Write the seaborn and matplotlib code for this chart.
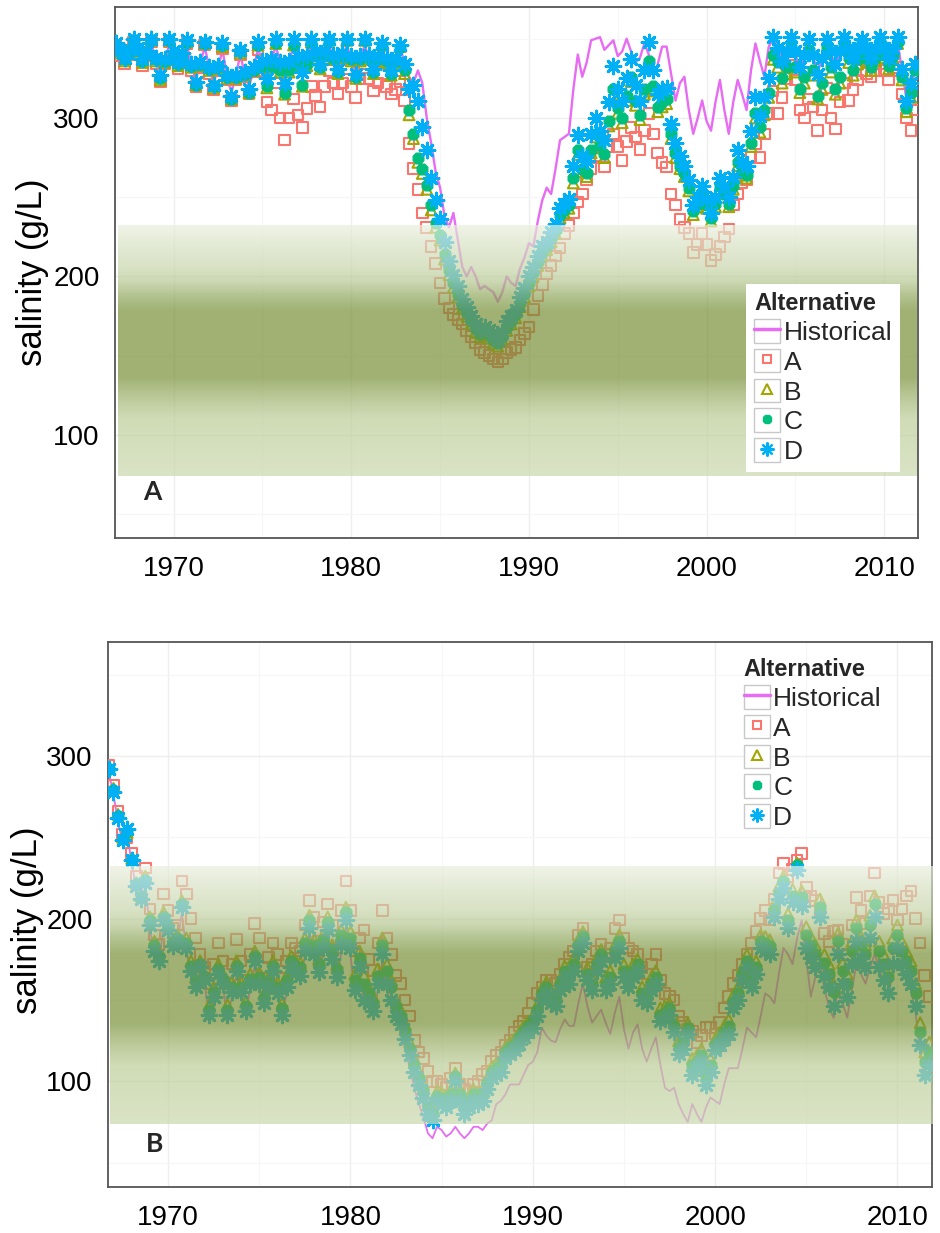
import numpy as np
import pandas as pd
import matplotlib
matplotlib.use("Agg")
import matplotlib.pyplot as plt
from matplotlib.patches import Rectangle
from matplotlib.lines import Line2D
from matplotlib.legend_handler import HandlerTuple
import seaborn as sns

# ---------------- data (quarterly samples, starting 1966.75) ----------------
series_names = ["Historical", "A", "B", "C", "D"]
colors = {"Historical": "#E76BF3", "A": "#F8766D", "B": "#A3A500", "C": "#00BF7D", "D": "#00B0F6"}
start_year = 1966.75
x_ticks = [1970, 1980, 1990, 2000, 2010]
y_ticks = [100, 200, 300]
band_low, band_high = 74, 232

# Panel A (north)
hist_A = [345,
    342, 338, 341, 346,  342, 336, 340, 346,  338, 328, 336, 346,  340, 333, 339, 346,
    334, 324, 334, 345,  332, 322, 331, 343,  327, 316, 326, 340,  328, 320, 330, 344,
    335, 326, 335, 346,  334, 324, 334, 346,  336, 330, 337, 346,  339, 333, 339, 346,
    338, 331, 338, 346,  337, 329, 337, 346,  338, 331, 337, 344,  336, 330, 336, 343,
    336, 326, 322, 330,  322, 300, 284, 266,  256, 238, 231, 240,  223, 206, 200, 206,
    200, 192, 194, 192,  190, 184, 190, 200,  196, 194, 205, 212,  221, 219, 235, 248,
    256, 252, 268, 286,  288, 290, 318, 340,  326, 335, 349, 350,  351, 343, 346, 349,
    339, 342, 350, 342,  335, 338, 347, 340,  326, 334, 345, 345,  328, 311, 322, 326,
    305, 290, 300, 311,  298, 292, 310, 324,  305, 290, 310, 324,  315, 305, 330, 347,
    336, 326, 345, 350,  344, 338, 342, 348,  340, 332, 338, 348,  338, 330, 336, 348,
    340, 334, 340, 348,  342, 336, 342, 348,  342, 336, 342, 348,  342, 336, 342, 348,
    330, 312, 320, 330]
alt_A_A = [345,
    339, 334, 340, 348,  340, 333, 339, 348,  334, 323, 334, 348,  338, 331, 338, 347,
    330, 320, 332, 346,  328, 318, 330, 344,  324, 311, 324, 340,  326, 315, 329, 343,
    330, 310, 305, 322,  300, 286, 300, 312,  302, 294, 306, 320,  314, 307, 320, 330,
    322, 315, 322, 331,  320, 313, 325, 334,  325, 317, 322, 328,  320, 315, 318, 323,
    311, 284, 268, 255,  240, 231, 219, 208,  196, 186, 180, 176,  173, 170, 166, 162,
    158, 154, 152, 150,  148, 146, 148, 152,  154, 155, 160, 164,  168, 179, 188, 195,
    202, 207, 213, 218,  227, 232, 240, 247,  252, 261, 268, 276,  275, 269, 282, 290,
    282, 273, 285, 294,  288, 280, 292, 303,  290, 278, 272, 269,  252, 245, 236, 231,
    227, 215, 220, 227,  220, 210, 214, 219,  225, 230, 245, 252,  259, 261, 275, 284,
    275, 290, 303, 317,  303, 313, 325, 340,  324, 305, 300, 312,  307, 292, 305, 319,
    300, 293, 310, 322,  311, 318, 324, 330,  328, 326, 330, 334,  330, 324, 330, 332,
    315, 300, 292, 305]
alt_B_A = [346,
    341, 336, 341, 349,  342, 335, 340, 349,  336, 324, 335, 349,  340, 333, 339, 348,
    332, 321, 333, 347,  330, 319, 331, 345,  325, 312, 325, 341,  327, 316, 330, 346,
    332, 319, 332, 347,  329, 315, 329, 346,  333, 320, 333, 348,  339, 331, 339, 349,
    337, 328, 338, 349,  336, 325, 336, 349,  337, 328, 336, 346,  335, 327, 335, 345,
    328, 302, 287, 272,  265, 255, 242, 231,  223, 211, 201, 193,  187, 180, 175, 170,
    165, 162, 163, 161,  158, 156, 160, 166,  170, 174, 181, 187,  194, 200, 207, 213,
    217, 222, 227, 237,  240, 243, 259, 277,  266, 263, 278, 288,  281, 275, 295, 315,
    303, 297, 311, 323,  308, 299, 315, 333,  317, 304, 307, 309,  287, 275, 268, 263,
    254, 239, 244, 250,  243, 235, 244, 255,  250, 244, 255, 270,  264, 262, 282, 300,
    291, 302, 313, 337,  332, 322, 328, 343,  329, 316, 322, 341,  327, 312, 318, 342,
    329, 315, 322, 344,  335, 327, 334, 346,  336, 330, 336, 347,  338, 331, 337, 347,
    324, 304, 313, 328]
alt_C_A = [346,
    342, 337, 342, 349,  343, 336, 341, 349,  337, 325, 336, 349,  341, 334, 340, 348,
    333, 321, 334, 347,  331, 320, 332, 346,  326, 312, 326, 342,  328, 316, 330, 346,
    333, 320, 333, 347,  330, 316, 330, 346,  334, 321, 334, 348,  340, 332, 340, 349,
    338, 329, 339, 349,  337, 326, 337, 349,  338, 329, 337, 346,  336, 328, 336, 345,
    330, 305, 290, 275,  268, 258, 245, 234,  226, 214, 204, 196,  189, 182, 177, 172,
    167, 164, 165, 163,  160, 158, 162, 168,  172, 176, 183, 189,  196, 202, 209, 215,
    219, 224, 229, 239,  242, 245, 262, 280,  268, 265, 280, 290,  283, 277, 298, 318,
    306, 300, 314, 326,  311, 302, 318, 336,  320, 307, 310, 312,  290, 278, 270, 265,
    256, 241, 246, 252,  245, 237, 246, 257,  252, 246, 257, 272,  266, 264, 284, 303,
    294, 305, 316, 340,  335, 325, 332, 345,  332, 318, 326, 343,  330, 314, 322, 344,
    332, 318, 326, 346,  338, 330, 337, 347,  338, 332, 338, 348,  340, 333, 339, 348,
    326, 306, 316, 330]
alt_D_A = [347,
    343, 338, 343, 350,  344, 337, 342, 350,  338, 327, 337, 350,  342, 335, 341, 349,
    334, 323, 335, 348,  332, 321, 333, 347,  327, 314, 327, 343,  329, 318, 332, 348,
    336, 325, 337, 350,  335, 322, 336, 350,  339, 329, 340, 350,  342, 334, 342, 350,
    340, 331, 341, 350,  339, 328, 339, 350,  340, 331, 339, 347,  338, 330, 338, 346,
    334, 318, 321, 311,  294, 280, 262, 248,  236, 222, 210, 201,  194, 186, 181, 175,
    170, 167, 168, 166,  163, 160, 165, 172,  175, 179, 187, 193,  200, 206, 213, 219,
    222, 228, 233, 243,  246, 249, 270, 289,  276, 273, 290, 300,  292, 286, 310, 333,
    318, 311, 325, 337,  321, 311, 330, 348,  330, 315, 318, 319,  296, 284, 276, 270,
    261, 245, 250, 257,  249, 240, 250, 262,  257, 250, 263, 280,  272, 270, 292, 313,
    301, 313, 325, 351,  344, 336, 342, 351,  342, 332, 340, 350,  340, 328, 338, 350,
    342, 334, 342, 351,  344, 338, 344, 350,  344, 338, 344, 351,  344, 338, 344, 351,
    331, 311, 322, 334]

# Panel B (south)
hist_B = [290,
    276, 260, 246, 252,  234, 218, 210, 220,  194, 178, 172, 196,  190, 180, 184, 204,
    180, 166, 156, 168,  160, 139, 150, 164,  158, 139, 152, 165,  153, 141, 157, 171,
    158, 146, 156, 166,  152, 139, 155, 167,  164, 162, 177, 191,  175, 164, 179, 190,
    172, 161, 180, 195,  178, 152, 166, 148,  145, 140, 156, 174,  156, 146, 136, 130,
    120, 108, 96, 86,    78, 68, 65, 72,      70, 66, 68, 72,      68, 65, 68, 72,
    72, 70, 74, 76,      86, 88, 92, 98,      98, 98, 104, 110,    112, 118, 133, 128,
    125, 124, 132, 138,  134, 134, 148, 160,  146, 136, 140, 144,  136, 129, 142, 152,
    132, 120, 130, 135,  120, 112, 120, 127,  110, 96, 94, 96,     86, 80, 75, 86,
    80, 75, 84, 90,      88, 86, 98, 108,     108, 108, 120, 133,  130, 127, 140, 154,
    152, 148, 166, 182,  178, 172, 188, 199,  176, 152, 164, 174,  156, 146, 139, 158,
    148, 139, 156, 172,  166, 160, 170, 178,  170, 160, 152, 168,  174, 166, 162, 156,
    142, 118, 100, 106]
alt_A_B = [294,
    282, 266, 252, 250,  240, 226, 218, 231,  206, 190, 184, 215,  205, 194, 196, 223,
    215, 200, 188, 178,  170, 160, 172, 185,  174, 160, 172, 187,  174, 162, 178, 197,
    188, 170, 176, 185,  178, 163, 174, 185,  182, 180, 196, 211,  201, 186, 198, 209,
    196, 182, 205, 223,  205, 180, 188, 193,  175, 168, 185, 205,  188, 178, 165, 160,
    150, 140, 125, 118,  114, 106, 100, 100,  98, 96, 102, 108,    98, 95, 94, 98,
    100, 104, 106, 112,  116, 118, 122, 125,  130, 134, 137, 142,  148, 154, 158, 162,
    162, 160, 166, 172,  176, 180, 190, 194,  170, 172, 180, 184,  178, 182, 194, 199,
    188, 182, 180, 178,  170, 166, 172, 178,  162, 154, 152, 150,  140, 136, 132, 131,
    124, 128, 133, 133,  129, 136, 145, 152,  160, 165, 172, 178,  185, 192, 200, 205,
    199, 212, 228, 234,  226, 230, 236, 240,  219, 214, 211, 205,  191, 186, 192, 193,
    184, 178, 196, 213,  205, 197, 214, 228,  210, 203, 206, 211,  199, 206, 214, 217,
    200, 185, 165, 152]
alt_B_B = [293,
    280, 264, 250, 253,  237, 222, 214, 226,  201, 186, 179, 204,  197, 187, 190, 211,
    188, 174, 164, 174,  166, 147, 158, 172,  166, 147, 161, 174,  161, 149, 166, 180,
    167, 154, 164, 174,  161, 148, 165, 177,  174, 173, 188, 202,  187, 175, 190, 201,
    184, 172, 193, 207,  192, 166, 180, 165,  158, 152, 169, 188,  172, 162, 150, 144,
    135, 124, 114, 106,  98, 88, 84, 94,      93, 91, 95, 105,     95, 88, 91, 95,
    93, 95, 102, 109,    111, 113, 121, 124,  126, 130, 134, 137,  140, 147, 157, 161,
    156, 154, 163, 171,  168, 176, 187, 192,  170, 164, 176, 181,  164, 168, 184, 190,
    172, 166, 172, 175,  158, 156, 164, 168,  145, 146, 148, 138,  125, 128, 136, 114,
    116, 120, 108, 114,  126, 130, 134, 138,  153, 158, 170, 178,  166, 174, 190, 189,
    187, 209, 220, 226,  203, 218, 234, 217,  195, 189, 184, 212,  178, 172, 160, 191,
    173, 166, 186, 199,  189, 184, 202, 214,  186, 178, 170, 188,  196, 186, 180, 174,
    160, 136, 118, 124]
alt_C_B = [292,
    279, 263, 249, 254,  236, 221, 213, 224,  199, 184, 177, 201,  195, 185, 188, 209,
    185, 171, 161, 172,  164, 144, 155, 169,  163, 144, 158, 171,  158, 146, 163, 177,
    164, 151, 161, 171,  158, 145, 162, 174,  171, 170, 185, 199,  184, 172, 187, 198,
    181, 169, 190, 204,  188, 162, 176, 160,  154, 148, 165, 184,  168, 158, 146, 140,
    131, 120, 110, 102,  94, 84, 80, 91,      90, 88, 92, 103,     92, 84, 88, 92,
    90, 92, 99, 106,     108, 110, 118, 121,  123, 127, 131, 134,  137, 144, 154, 158,
    152, 150, 160, 168,  164, 172, 184, 189,  166, 160, 172, 178,  160, 164, 180, 186,
    168, 162, 168, 172,  154, 152, 160, 164,  141, 142, 145, 134,  121, 124, 133, 110,
    112, 116, 104, 110,  123, 126, 130, 134,  149, 154, 166, 174,  162, 170, 186, 185,
    183, 205, 216, 223,  199, 214, 233, 213,  190, 184, 178, 207,  173, 166, 155, 186,
    168, 160, 180, 194,  184, 178, 196, 209,  180, 172, 164, 182,  190, 180, 174, 168,
    154, 130, 112, 118]
alt_D_B = [292,
    278, 262, 248, 255,  236, 220, 212, 222,  196, 180, 174, 199,  193, 183, 186, 207,
    182, 168, 158, 170,  162, 141, 152, 166,  160, 141, 155, 168,  155, 143, 160, 174,
    160, 148, 158, 168,  154, 141, 158, 170,  167, 165, 180, 194,  178, 167, 182, 193,
    175, 164, 184, 199,  182, 156, 170, 150,  148, 143, 160, 178,  160, 150, 140, 135,
    126, 116, 106, 98,   90, 80, 76, 88,      86, 84, 88, 100,     88, 80, 84, 88,
    86, 88, 95, 102,     104, 106, 114, 117,  119, 123, 127, 130,  133, 140, 150, 154,
    148, 146, 156, 164,  160, 168, 180, 185,  162, 156, 168, 174,  156, 160, 176, 182,
    164, 158, 164, 168,  150, 148, 156, 160,  137, 138, 141, 130,  117, 120, 129, 104,
    108, 112, 98, 106,   119, 122, 126, 129,  145, 150, 162, 170,  158, 166, 182, 180,
    178, 201, 212, 219,  194, 210, 230, 208,  182, 176, 170, 201,  165, 158, 146, 178,
    160, 152, 172, 186,  176, 170, 188, 201,  170, 162, 154, 172,  182, 172, 166, 160,
    146, 122, 104, 110]

panel_A = {"Historical": hist_A, "A": alt_A_A, "B": alt_B_A, "C": alt_C_A, "D": alt_D_A}
panel_B = {"Historical": hist_B, "A": alt_A_B, "B": alt_B_B, "C": alt_C_B, "D": alt_D_B}

# band shading profile (salinity level -> colour seen over white)
band_levels = [74, 110, 118, 128, 136, 178, 188, 197, 205, 220, 232]
band_rgb = [(218, 228, 198), (208, 220, 182), (196, 209, 166), (178, 193, 140),
            (160, 177, 115), (160, 177, 115), (180, 196, 145), (205, 217, 180),
            (216, 226, 196), (228, 235, 214), (240, 244, 232)]

# ---------------- styling ----------------
sns.set_style("white")
plt.rcParams["font.family"] = ["Liberation Sans", "DejaVu Sans"]

fig = plt.figure(figsize=(9.4, 12.33), dpi=100)
axA = fig.add_axes([0.1223, 0.5637, 0.8543, 0.4306])
axB = fig.add_axes([0.1149, 0.0373, 0.8766, 0.4420])

marker_style = {
    "A": dict(marker="s", s=58, facecolors="none", linewidth=1.5),
    "B": dict(marker="^", s=60, facecolors="none", linewidth=1.5),
    "C": dict(marker="8", s=72, linewidth=0.8),
    "D": dict(marker=(8, 2, 0), s=110, linewidth=2.2),
}


def draw_band(ax, x0, x1):
    ys = np.linspace(band_low, band_high, 400)
    arr = np.array(band_rgb, dtype=float) / 255.0
    rgb = np.stack([np.interp(ys, band_levels, arr[:, k]) for k in range(3)], axis=1)
    a = 0.7
    col = np.clip((rgb - (1 - a)) / a, 0, 1)
    img = np.ones((len(ys), 1, 4))
    img[:, 0, :3] = col
    img[:, 0, 3] = a
    ax.imshow(img, extent=[x0, x1, band_low, band_high], origin="lower",
              aspect="auto", zorder=4, interpolation="bilinear")


def draw_panel(ax, data, line_w, label, label_pos, band_x):
    n = len(data["D"])
    t = start_year + 0.25 * np.arange(n)
    df = pd.DataFrame({"year": t})
    for name in series_names:
        df[name] = data[name]
    sns.lineplot(data=df, x="year", y="Historical", ax=ax, color=colors["Historical"],
                 linewidth=line_w, zorder=2, legend=False)
    for name in ["A", "B", "C", "D"]:
        kw = dict(marker_style[name])
        if name in ("A", "B"):
            kw["edgecolor"] = colors[name]
        elif name == "C":
            kw["color"] = colors[name]
            kw["edgecolor"] = colors[name]
        else:
            kw["color"] = colors[name]
        sns.scatterplot(data=df, x="year", y=name, ax=ax, zorder=3, legend=False, **kw)
    draw_band(ax, band_x[0], band_x[1])
    ax.set_xlim(1966.7, 2011.9)
    ax.set_ylim(35, 370)
    ax.set_xticks(x_ticks)
    ax.set_xticks([1975, 1985, 1995, 2005], minor=True)
    ax.set_yticks(y_ticks)
    ax.set_yticks([50, 150, 250, 350], minor=True)
    ax.grid(which="major", color="#EEEEEE", linewidth=1.0)
    ax.grid(which="minor", color="#F6F6F6", linewidth=0.8)
    ax.set_axisbelow(True)
    ax.tick_params(axis="both", which="major", direction="out", length=6, width=1.1,
                   color="#333333", labelsize=20, labelcolor="black", pad=5)
    ax.tick_params(axis="both", which="minor", length=0)
    ax.tick_params(axis="x", pad=7)
    for sp in ax.spines.values():
        sp.set_color("#555555")
        sp.set_linewidth(1.3)
        sp.set_visible(True)
    ax.set_xlabel("")
    ax.set_ylabel("salinity (g/L)", fontsize=25, color="black")
    ax.text(label_pos[0], label_pos[1], label, transform=ax.transAxes, fontsize=19,
            fontweight="bold", family=["Lato", "DejaVu Sans"], ha="center", va="center", zorder=7)


draw_panel(axA, panel_A, 1.7, "A", (0.046, 0.087), (1966.86, 2011.82))
draw_panel(axB, panel_B, 1.3, "B", (0.056, 0.079), (1966.8, 2011.9))
axA.yaxis.set_label_coords(-0.082, 0.5)
axB.yaxis.set_label_coords(-0.078, 0.49)


def legend_handles():
    box = lambda: Rectangle((0, 0), 1, 1, facecolor="white", edgecolor="#C8C8C8", linewidth=1.0)
    hs = [(box(), Line2D([], [], color=colors["Historical"], linewidth=2.5))]
    hs.append((box(), Line2D([], [], linestyle="none", marker="s", markersize=6,
                              markerfacecolor="none", markeredgecolor=colors["A"], markeredgewidth=1.5)))
    hs.append((box(), Line2D([], [], linestyle="none", marker="^", markersize=7,
                              markerfacecolor="none", markeredgecolor=colors["B"], markeredgewidth=1.5)))
    hs.append((box(), Line2D([], [], linestyle="none", marker="8", markersize=7,
                              markerfacecolor=colors["C"], markeredgecolor=colors["C"])))
    hs.append((box(), Line2D([], [], linestyle="none", marker=(8, 2, 0), markersize=10,
                              color=colors["D"], markeredgewidth=1.6)))
    return hs


def add_legend(ax, anchor, frame):
    leg = ax.legend(legend_handles(), series_names, title="Alternative",
                    handler_map={tuple: HandlerTuple(ndivide=1, pad=0)},
                    loc="upper left", bbox_to_anchor=anchor, fontsize=19,
                    title_fontproperties={"weight": "bold", "size": 17},
                    handlelength=1.0, handleheight=1.0, handletextpad=0.12,
                    labelspacing=0.15, borderpad=0.3, borderaxespad=0.0,
                    frameon=frame, fancybox=False, alignment="left")
    if frame:
        leg.get_frame().set_facecolor("white")
        leg.get_frame().set_edgecolor("none")
        leg.get_frame().set_alpha(1.0)
    leg.set_zorder(8)
    return leg


add_legend(axA, (0.786, 0.478), True)
add_legend(axB, (0.762, 0.985), False)

fig.savefig("out.png", dpi=100, facecolor="white")
